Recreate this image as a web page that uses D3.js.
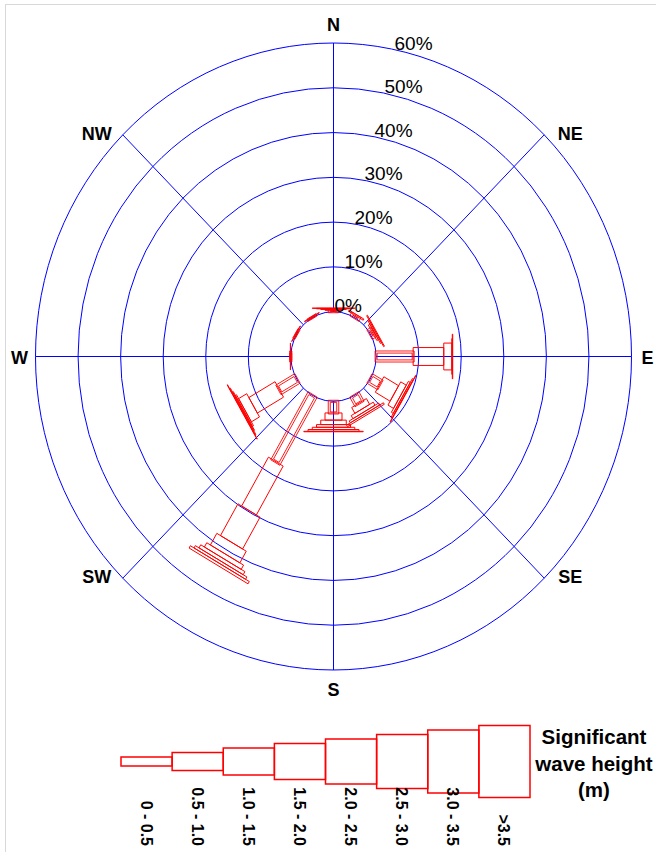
<!DOCTYPE html>
<html>
<head>
<meta charset="utf-8">
<script src="https://cdn.jsdelivr.net/npm/d3@7"></script>
<style>
  body { margin: 0; background: #fff; }
  svg { display: block; }
  text { font-family: "Liberation Sans", Arial, sans-serif; fill: #000; }
</style>
</head>
<body>
<svg id="chart" width="656" height="852"></svg>
<script>
// sector directions (degrees clockwise from north)
const directions = [0, 30, 60, 90, 120, 150, 180, 210, 240, 270, 300, 330];
const compassNames = ["N", "NE", "E", "SE", "S", "SW", "W", "NW"];
const compassAngles = [0, 45, 90, 135, 180, 225, 270, 315];
const ringTicks = [0, 10, 20, 30, 40, 50, 60];
const heightClasses = ["0 - 0.5", "0.5 - 1.0", "1.0 - 1.5", "1.5 - 2.0",
                       "2.0 - 2.5", "2.5 - 3.0", "3.0 - 3.5", ">3.5"];

// frequency (%) of each wave height class, one list per direction
const dir000 = [0.3, 0.2, 0.15, 0.1, 0.05, 0, 0, 0];
const dir030 = [0.5, 0.3, 0, 0, 0, 0, 0, 0];
const dir060 = [0.6, 0.4, 0.3, 0.2, 0, 0, 0, 0];
const dir090 = [8.7, 7.2, 1.9, 0.1, 0.1, 0, 0, 0];
const dir120 = [2.5, 4.0, 1.5, 0.5, 0.3, 0.1, 0, 0];
const dir150 = [2.0, 1.5, 0.8, 0.5, 0.4, 0, 0, 0];
const dir180 = [2.6, 1.6, 1.0, 0.6, 0.5, 0.4, 0.1, 0];
const dir210 = [17.1, 12.6, 8.2, 3.0, 1.1, 0.8, 0.6, 0.6];
const dir240 = [4.7, 7.1, 2.2, 0.3, 0.2, 0.2, 0.1, 0];
const dir270 = [0.05, 0.05, 0.02, 0, 0, 0, 0, 0];
const dir300 = [0.1, 0.1, 0, 0, 0, 0, 0, 0];
const dir330 = [0.1, 0.1, 0, 0, 0, 0, 0, 0];
const freqByDir = [dir000, dir030, dir060, dir090, dir120, dir150,
                   dir180, dir210, dir240, dir270, dir300, dir330];

const svg = d3.select("#chart");
const cx = 333.5, cy = 356.5, stretchY = 1.052;
const blue = "#0000ff", red = "#ff0000";

// radial scale: 0% sits on the inner circle
const r = d3.scaleLinear().domain([0, 60]).range([42.6, 298]);
// bar width per height class
const barWidth = d3.scaleLinear().domain([0, 7]).range([8.5, 68]);

// frame
svg.append("rect").attr("x", 5.5).attr("y", 4.5).attr("width", 700).attr("height", 900)
  .attr("fill", "none").attr("stroke", "#d8d8d8").attr("stroke-width", 1);

const g = svg.append("g")
  .attr("transform", "translate(" + cx + "," + cy + ") scale(1," + stretchY + ")");

const rad = a => a * Math.PI / 180;

// rings
g.selectAll("circle.ring")
  .data(ringTicks)
  .enter()
  .append("circle")
  .attr("class", "ring")
  .attr("r", d => r(d))
  .attr("fill", "none")
  .attr("stroke", blue)
  .attr("stroke-width", 1)
  .attr("vector-effect", "non-scaling-stroke");

// spokes from the 0% circle to the outer ring
g.selectAll("line.spoke")
  .data(compassAngles)
  .enter()
  .append("line")
  .attr("x1", d => r(0) * Math.sin(rad(d)))
  .attr("y1", d => -r(0) * Math.cos(rad(d)))
  .attr("x2", d => r(60) * Math.sin(rad(d)))
  .attr("y2", d => -r(60) * Math.cos(rad(d)))
  .attr("stroke", blue)
  .attr("stroke-width", 1)
  .attr("vector-effect", "non-scaling-stroke");

// bars: stacked class segments along each direction
const segs = [];
directions.forEach((dir, i) => {
  let cum = 0;
  freqByDir[i].forEach((v, k) => {
    if (v > 0) segs.push({dir: dir, k: k, from: cum, to: cum + v});
    cum += v;
  });
});

const line = d3.line();
function segPath(d, pad) {
  const a = rad(d.dir);
  const ux = Math.sin(a), uy = -Math.cos(a);
  const vx = Math.cos(a), vy = Math.sin(a);
  const h = barWidth(d.k) / 2 + (pad || 0);
  const r1 = r(d.from) - (pad || 0), r2 = r(d.to) + (pad || 0);
  return line([
    [ux * r1 + vx * h, uy * r1 + vy * h],
    [ux * r2 + vx * h, uy * r2 + vy * h],
    [ux * r2 - vx * h, uy * r2 - vy * h],
    [ux * r1 - vx * h, uy * r1 - vy * h]
  ]) + "Z";
}

// lowest class is drawn as a double outline
const lowest = segs.filter(d => d.k === 0);
[-1, 1].forEach(p => {
  g.selectAll("path.low" + (p + 1))
    .data(lowest)
    .enter()
    .append("path")
    .attr("class", "low" + (p + 1))
    .attr("d", d => segPath(d, p))
    .attr("fill", "none")
    .attr("stroke", red)
    .attr("stroke-width", 0.9)
    .attr("vector-effect", "non-scaling-stroke");
});

g.selectAll("path.seg")
  .data(segs.filter(d => d.k > 0))
  .enter()
  .append("path")
  .attr("class", "seg")
  .attr("d", d => segPath(d, 0))
  .attr("fill", "none")
  .attr("stroke", red)
  .attr("stroke-width", 1)
  .attr("vector-effect", "non-scaling-stroke");

// ring labels
svg.selectAll("text.tick")
  .data(ringTicks)
  .enter()
  .append("text")
  .attr("class", "tick")
  .attr("x", (d, i) => cx + 1 + 10 * i)
  .attr("y", (d, i) => {
    const dx = 1 + 10 * i;
    return cy - r(d) * stretchY * Math.sqrt(1 - Math.pow(dx / r(d), 2));
  })
  .style("font-size", "19px")
  .text(d => d + "%");

// compass labels
svg.selectAll("text.compass")
  .data(compassNames)
  .enter()
  .append("text")
  .attr("class", "compass")
  .attr("x", (d, i) => {
    const a = compassAngles[i];
    const s = Math.sin(rad(a));
    const ex = cx + r(60) * s;
    if (a % 90 === 0) return ex + s * 16;
    return ex + Math.sign(s) * 26;
  })
  .attr("y", (d, i) => {
    const a = compassAngles[i];
    const c = Math.cos(rad(a));
    const ey = cy - r(60) * stretchY * c;
    if (a % 90 === 0) return ey - c * 19 + 1;
    return ey - 1;
  })
  .attr("text-anchor", "middle")
  .attr("dominant-baseline", "central")
  .style("font-size", "18px")
  .style("font-weight", "bold")
  .text(d => d);

// legend
const lx = d3.scaleBand().domain(heightClasses).range([121, 530]);
const lh = d3.scaleLinear().domain([0, 7]).range([9, 72]);
const legendY = 761.5;

svg.selectAll("rect.key")
  .data(heightClasses)
  .enter()
  .append("rect")
  .attr("class", "key")
  .attr("x", d => lx(d))
  .attr("y", (d, i) => legendY - lh(i) / 2)
  .attr("width", lx.bandwidth())
  .attr("height", (d, i) => lh(i))
  .attr("fill", "none")
  .attr("stroke", red)
  .attr("stroke-width", 1.5);

svg.selectAll("text.keylabel")
  .data(heightClasses)
  .enter()
  .append("text")
  .attr("class", "keylabel")
  .attr("transform", d => "translate(" + (lx(d) + lx.bandwidth() / 2 - 6) + ",846) rotate(90)")
  .attr("text-anchor", "end")
  .style("font-size", "16px")
  .style("font-weight", "bold")
  .text(d => d);

const titleLines = ["Significant", "wave height", "(m)"];
svg.selectAll("text.ktitle")
  .data(titleLines)
  .enter()
  .append("text")
  .attr("class", "ktitle")
  .attr("x", 594)
  .attr("y", (d, i) => 744 + i * 26.5)
  .attr("text-anchor", "middle")
  .style("font-size", "20.5px")
  .style("font-weight", "bold")
  .text(d => d);
</script>
</body>
</html>
